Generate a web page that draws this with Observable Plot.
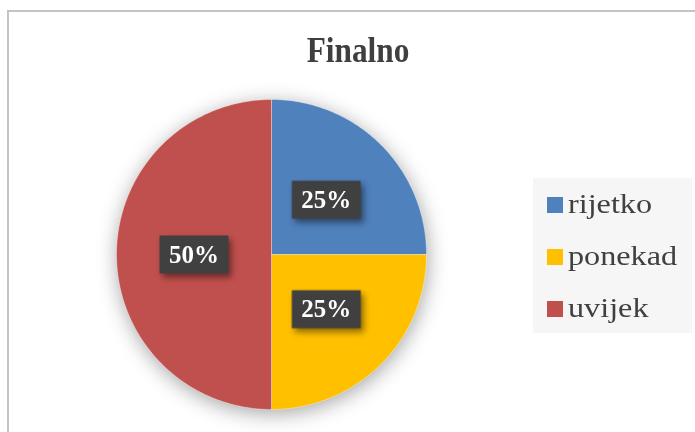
<!DOCTYPE html>
<html>
<head>
<meta charset="utf-8">
<script src="https://cdn.jsdelivr.net/npm/d3@7"></script>
<script src="https://cdn.jsdelivr.net/npm/@observablehq/plot@0.6"></script>
<style>
  html, body { margin: 0; padding: 0; background: #fff; overflow: hidden; }
  #page { position: relative; width: 695px; height: 432px; overflow: hidden; }
  #frame { position: absolute; left: 7px; top: 10px; width: 720px; height: 450px; border: 2px solid #c4c4c4; box-sizing: border-box; }
  #title { position: absolute; left: 0; width: 717px; top: 32px; text-align: center; font: bold 36px/36px "Liberation Serif", serif; color: #3f3f3f; }
  #title span { display: inline-block; transform: scaleX(0.87); }
  #chart { position: absolute; left: 85px; top: 68px; }
  #legend { position: absolute; left: 533px; top: 178px; width: 159px; height: 155px; background: #f6f6f6; padding-top: 1px; box-sizing: border-box; }
  .row { height: 52px; display: flex; align-items: center; padding-left: 14px; }
  .sw { width: 16px; height: 16px; margin-right: 5px; flex: none; }
  .lab { font: 28px/28px "Liberation Serif", serif; color: #404040; display: inline-block; position: relative; top: -1px; transform: scaleX(1.15); transform-origin: left center; white-space: nowrap; }
</style>
</head>
<body>
<div id="page">
  <div id="frame"></div>
  <div id="title"><span>Finalno</span></div>
  <div id="chart"></div>
  <div id="legend"></div>
</div>
<script>
const title = "Finalno";
const categories = ["rijetko", "ponekad", "uvijek"];
const values = [25, 25, 50];
const colors = ["#4f81bd", "#ffc000", "#c0504d"];

const total = d3.sum(values);
const arcs = d3.pie().sort(null).value(d => d)(values);

// slice outlines built from the pie angles
const slicePts = [];
arcs.forEach((a, i) => {
  const cat = categories[i];
  slicePts.push({cat, x: 0, y: 0});
  const steps = 120;
  for (let k = 0; k <= steps; k++) {
    const t = a.startAngle + (a.endAngle - a.startAngle) * k / steps;
    slicePts.push({cat, x: Math.sin(t), y: Math.cos(t)});
  }
  slicePts.push({cat, x: 0, y: 0});
});

const labels = arcs.map((a, i) => {
  const mid = (a.startAngle + a.endAngle) / 2;
  return {x: 0.5 * Math.sin(mid), y: 0.5 * Math.cos(mid), label: Math.round(values[i] / total * 100) + "%"};
});

const boxSymbol = {
  draw(ctx) {
    ctx.moveTo(-34.5, -19); ctx.lineTo(34.5, -19); ctx.lineTo(34.5, 19); ctx.lineTo(-34.5, 19); ctx.closePath();
  }
};

const plot = Plot.plot({
  width: 372,
  height: 372,
  margin: 0,
  x: {domain: [-1.2, 1.2], axis: null},
  y: {domain: [-1.2, 1.2], axis: null},
  color: {domain: categories, range: colors},
  style: {overflow: "visible", background: "transparent"},
  marks: [
    Plot.line(slicePts, {x: "x", y: "y", z: "cat", fill: "cat", stroke: "#ffffff", strokeWidth: 0.8, strokeOpacity: 0.45, curve: "linear"}),
    Plot.dot(labels, {x: "x", y: "y", symbol: boxSymbol, r: 10, fill: "#404040", stroke: "none"}),
    Plot.text(labels, {x: "x", y: "y", text: "label", fill: "#ffffff", fontSize: 25, fontWeight: "bold", fontFamily: "Liberation Serif"})
  ]
});
document.getElementById("chart").appendChild(plot);
const lineG = plot.querySelector('g[aria-label="line"]');
if (lineG) lineG.style.filter = "drop-shadow(1px 4px 10px rgba(0,0,0,0.35))";
const dotG = plot.querySelector('g[aria-label="dot"]');
if (dotG) dotG.style.filter = "drop-shadow(3px 4px 3px rgba(0,0,0,0.45))";

document.querySelector("#title span").textContent = title;
const legend = document.getElementById("legend");
categories.forEach((c, i) => {
  const row = document.createElement("div");
  row.className = "row";
  const sw = document.createElement("span");
  sw.className = "sw";
  sw.style.background = colors[i];
  const lab = document.createElement("span");
  lab.className = "lab";
  lab.textContent = c;
  row.appendChild(sw);
  row.appendChild(lab);
  legend.appendChild(row);
});
</script>
</body>
</html>
